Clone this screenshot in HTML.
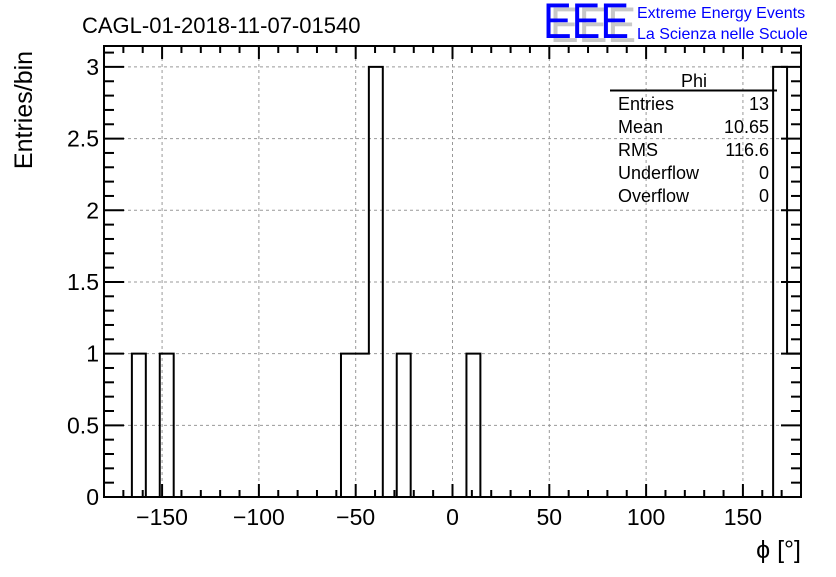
<!DOCTYPE html>
<html><head><meta charset="utf-8"><style>
body{margin:0;background:#fff;}
svg text{font-family:"Liberation Sans",sans-serif;}
</style></head><body>
<svg id="c" width="836" height="572" xmlns="http://www.w3.org/2000/svg">
<text x="82" y="33" font-size="22">CAGL-01-2018-11-07-01540</text>
<g>
<text x="550" y="42" font-size="50" fill="#c8c8c8" textLength="86" lengthAdjust="spacingAndGlyphs">EEE</text>
<text x="543" y="38" font-size="50" fill="#0000ff" textLength="86" lengthAdjust="spacingAndGlyphs">EEE</text>
<text x="637" y="18" font-size="16" fill="#0000ff">Extreme Energy Events</text>
<text x="637" y="39" font-size="16" fill="#0000ff">La Scienza nelle Scuole</text>
</g>
<text transform="translate(32,110) rotate(-90)" text-anchor="middle" font-size="25">Entries/bin</text>
<text x="801" y="558" text-anchor="end" font-size="25">ϕ [°]</text>
<g id="grid"></g><g id="hist"></g><g id="axes"></g>
<g font-size="18">
<text x="694" y="87" text-anchor="middle">Phi</text>
<line x1="610" y1="90.5" x2="777" y2="90.5" stroke="#000" stroke-width="2"/>
<text x="618" y="110">Entries</text><text x="769" y="110" text-anchor="end">13</text>
<text x="618" y="133">Mean</text><text x="769" y="133" text-anchor="end">10.65</text>
<text x="618" y="156">RMS</text><text x="769" y="156" text-anchor="end">116.6</text>
<text x="618" y="179">Underflow</text><text x="769" y="179" text-anchor="end">0</text>
<text x="618" y="202">Overflow</text><text x="769" y="202" text-anchor="end">0</text>
</g>
</svg>
<script>
const binCount = 50;
const xMin = -180, xMax = 180;
const filledBins = [2, 4, 17, 18, 19, 21, 26, 48, 49];
const binContents = [1, 1, 1, 1, 3, 1, 1, 3, 1];
const xTicks = [-150, -100, -50, 0, 50, 100, 150];
const xTickLabels = ["\u2212150", "\u2212100", "\u221250", "0", "50", "100", "150"];
const yTicks = [0, 0.5, 1, 1.5, 2, 2.5, 3];
const yTickLabels = ["0", "0.5", "1", "1.5", "2", "2.5", "3"];
const L = 104, R = 801, T = 46, B = 497, yMax = 3.146;
const NS = "http://www.w3.org/2000/svg";
const xs = v => L + (v - xMin) / (xMax - xMin) * (R - L);
const ys = v => B - v / yMax * (B - T);
function mk(tag, attrs, parent) { const e = document.createElementNS(NS, tag); for (const k in attrs) e.setAttribute(k, attrs[k]); parent.appendChild(e); return e; }
const grid = document.getElementById('grid'), hist = document.getElementById('hist'), axes = document.getElementById('axes');
xTicks.forEach(v => { const l = mk('line', {x1: xs(v), x2: xs(v), y1: T, y2: B, stroke: '#999', 'stroke-dasharray': '3,3', 'stroke-width': 1}, grid);
  
   });
yTicks.forEach(v => { const l = mk('line', {x1: L, x2: R, y1: ys(v), y2: ys(v), stroke: '#999', 'stroke-dasharray': '3,3', 'stroke-width': 1}, grid);
  
   });
const vals = new Array(binCount).fill(0);
filledBins.forEach((b, i) => vals[b] = binContents[i]);
const bw = (xMax - xMin) / binCount;
let d = 'M' + xs(xMin) + ',' + ys(0);
for (let i = 0; i < binCount; i++) { const x0 = xs(xMin + i * bw), x1 = xs(xMin + (i + 1) * bw); d += ' L' + x0 + ',' + ys(vals[i]) + ' L' + x1 + ',' + ys(vals[i]); }
d += ' L' + xs(xMax) + ',' + ys(0);
const p = mk('path', {d: d, fill: 'none', stroke: '#000', 'stroke-width': 2}, hist);


const fr = mk('rect', {x: L, y: T, width: R - L, height: B - T, fill: 'none', stroke: '#000', 'stroke-width': 2}, axes);


for (let v = -180; v <= 180; v += 10) { const major = v % 50 === 0; const len = major ? 13 : 7;
  mk('line', {x1: xs(v), x2: xs(v), y1: B, y2: B - len, stroke: '#000', 'stroke-width': 2}, axes);
  mk('line', {x1: xs(v), x2: xs(v), y1: T, y2: T + len, stroke: '#000', 'stroke-width': 2}, axes); }
xTicks.forEach((v, i) => { const t = mk('text', {x: xs(v), y: 525, 'text-anchor': 'middle', 'font-size': 23}, axes); t.textContent = xTickLabels[i];
  
   });
for (let k = 0; k <= 31; k++) { const v = k / 10; const major = k % 5 === 0; const len = major ? 20 : 10;
  mk('line', {x1: L, x2: L + len, y1: ys(v), y2: ys(v), stroke: '#000', 'stroke-width': 2}, axes);
  mk('line', {x1: R, x2: R - len, y1: ys(v), y2: ys(v), stroke: '#000', 'stroke-width': 2}, axes); }
yTicks.forEach((v, i) => { const t = mk('text', {x: 99, y: ys(v) + 8, 'text-anchor': 'end', 'font-size': 23}, axes); t.textContent = yTickLabels[i];
  
   });
</script>
</body></html>
